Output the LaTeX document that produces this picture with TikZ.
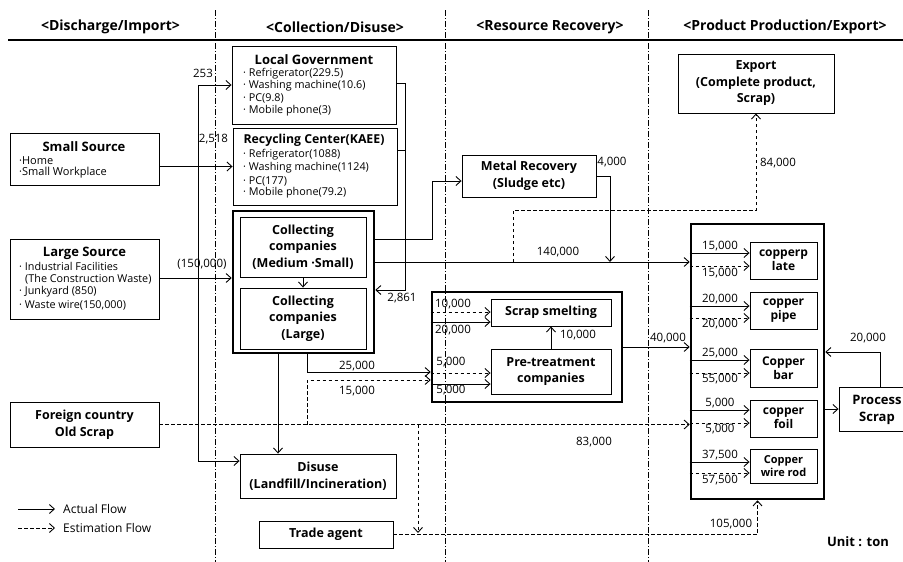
\documentclass[tikz,border=0pt]{standalone}
\usepackage{fontspec}
\setmainfont{Open Sans}
\usetikzlibrary{arrows.meta,calc}
\begin{document}
\begin{tikzpicture}[x=1pt,y=-1pt,
  box/.style={draw, line width=0.9pt, inner sep=0pt, align=center, font=\bfseries\fontsize{12.5}{16.5}\selectfont},
  thickbox/.style={draw, line width=2.6pt, inner sep=0pt},
  prod/.style={box, font=\bfseries\fontsize{12}{14}\selectfont},
  ttl/.style={inner sep=0pt, font=\bfseries\fontsize{13}{15}\selectfont},
  hdr/.style={inner sep=0pt, font=\bfseries\fontsize{14}{16}\selectfont},
  item/.style={inner sep=0pt, anchor=west, font=\fontsize{10.8}{13}\selectfont},
  num/.style={inner sep=0pt, font=\fontsize{11.5}{13}\selectfont},
  act/.style={line width=0.9pt, -{Straight Barb[length=5pt,width=9pt,line width=0.9pt]}},
  est/.style={act, dash pattern=on 3.5pt off 2.5pt},
  plain/.style={line width=0.9pt},
  sep/.style={line width=0.6pt, dash pattern=on 6pt off 2pt on 1pt off 2pt}]
\useasboundingbox (0,0) rectangle (903,562);

% column separators and header line
\draw[sep] (215,10) -- (215,562);
\draw[sep] (445,10) -- (445,562);
\draw[sep] (648,10) -- (648,562);
\draw[line width=2pt] (8,40) -- (903,40);

\node[hdr] (h1) at (110.5,27) {<Discharge/Import>};
\node[hdr] (h2) at (335,27) {<Collection/Disuse>};
\node[hdr] (h3) at (550,27) {<Resource Recovery>};
\node[hdr] (h4) at (785,27) {<Product Production/Export>};

% left column
\node[box, minimum width=149pt, minimum height=52pt] (SS) at (84.5,159) {};
\node[ttl] (SSt) at (84,147) {Small Source};
\node[item, font=\fontsize{11}{12}\selectfont] (SS1) at (19,161) {·Home};
\node[item, font=\fontsize{11}{12}\selectfont] (SS2) at (19,173) {·Small Workplace};

\node[box, minimum width=149pt, minimum height=80pt] (LS) at (84.5,279) {};
\node[ttl] (LSt) at (84.5,253) {Large Source};
\node[item] (LS1) at (19,266) {· Industrial Facilities};
\node[item] (LS2) at (25,279) {(The Construction Waste)};
\node[item] (LS3) at (19,292) {· Junkyard (850)};
\node[item] (LS4) at (19,305) {· Waste wire(150,000)};

\node[box, minimum width=149pt, minimum height=45pt] (FC) at (84.5,424.5) {Foreign country\\Old Scrap};

% collection column
\node[box, minimum width=164pt, minimum height=78pt] (LG) at (314,85) {};
\node[ttl] (LGt) at (314,60) {Local Government};
\node[item] (LG1) at (243,73.5) {· Refrigerator(229.5)};
\node[item] (LG2) at (243,86) {· Washing machine(10.6)};
\node[item] (LG3) at (243,98.5) {· PC(9.8)};
\node[item] (LG4) at (243,111) {· Mobile phone(3)};

\node[box, minimum width=164pt, minimum height=77pt] (RC) at (315,166.5) {};
\node[ttl, font=\bfseries\fontsize{12.3}{15}\selectfont] (RCt) at (314,140) {Recycling Center(KAEE)};
\node[item] (RC1) at (243,155) {· Refrigerator(1088)};
\node[item] (RC2) at (243,168) {· Washing machine(1124)};
\node[item] (RC3) at (243,181) {· PC(177)};
\node[item] (RC4) at (243,193) {· Mobile phone(79.2)};

\node[thickbox, minimum width=141pt, minimum height=142pt] (CC) at (303.5,282) {};
\node[box, minimum width=126pt, minimum height=60pt] (CM) at (303,247) {Collecting\\companies\\(Medium ·Small)};
\node[box, minimum width=126pt, minimum height=61pt] (CL) at (303,318.5) {Collecting\\companies\\(Large)};

\node[box, minimum width=156pt, minimum height=44pt] (DU) at (318,476) {Disuse\\(Landfill/Incineration)};
\node[box, minimum width=134pt, minimum height=27pt] (TA) at (326,534.5) {Trade agent};

% resource recovery column
\node[box, minimum width=134pt, minimum height=42pt] (MR) at (529,176) {Metal Recovery\\(Sludge etc)};
\node[thickbox, minimum width=190pt, minimum height=110pt] (PT) at (527,347) {};
\node[box, minimum width=120pt, minimum height=27pt] (SM) at (551,312.5) {Scrap smelting};
\node[box, minimum width=120pt, minimum height=45pt] (PC) at (551,371.5) {Pre-treatment\\companies};

% product column
\node[box, minimum width=156pt, minimum height=59pt] (EX) at (756,83.5) {Export\\(Complete product,\\Scrap)};
\node[thickbox, minimum width=133pt, minimum height=275pt] (CB) at (757.5,361.5) {};
\node[prod, minimum width=67pt, minimum height=37pt] (P1) at (783.5,260.5) {copperp\\late};
\node[prod, minimum width=67pt, minimum height=37pt] (P2) at (783.5,310.5) {copper\\pipe};
\node[prod, minimum width=67pt, minimum height=38pt] (P3) at (783.5,368) {Copper\\bar};
\node[prod, minimum width=67pt, minimum height=37pt] (P4) at (783.5,418.5) {copper\\foil};
\node[prod, minimum width=67pt, minimum height=34pt, font=\bfseries\fontsize{11}{12.5}\selectfont] (P5) at (783.5,466) {Copper\\wire rod};
\node[draw, line width=0.9pt, inner sep=0pt, minimum width=64pt, minimum height=44pt] (PS) at (871,409) {};
\node[ttl, align=center, font=\bfseries\fontsize{13}{17}\selectfont] (PSt) at (877,409.5) {Process\\Scrap};

% connectors: sources
\coordinate (j1) at (198,166.5);
\draw[act] (SS.east |- RC.west) -- (RC.west);
\draw[act] (j1) |- (LG.west);
\draw[act] (j1) |- (DU.west |- 0,461);
\node[num] (n253) at (203,73) {253};
\node[num] (n2518) at (213.5,139) {2,518};
\draw[act] (LS.east |- 0,278) -- (CC.west |- 0,278);
\node[num] (n150) at (202,264) {(150,000)};

% collection internals
\draw[act] (CM.south) -- (CL.north);
\coordinate (b1) at (405,290);
\draw[act] (LG.east |- 0,83) -| (b1) -- (b1 -| CC.east);
\draw[plain] (RC.east |- 0,150) -| (b1);
\node[num] (n2861) at (402,298) {2,861};
\draw[act] (CC.south -| 278,0) -- (DU.north -| 278,0);

% to metal recovery and product
\draw[act] (CC.east |- 0,239) -| (432,181) -- (MR.west |- 0,181);
\draw[act] (CC.east |- 0,262) -- (CB.west |- 0,262);
\node[num] (n140) at (558,252) {140,000};
\draw[act] (MR.east) -| (610,262);
\node[num] (n4000) at (612,162) {4,000};
\draw[est] (513,262) |- (EX.south |- 0,210) -- (EX.south);
\node[num] (n84) at (778,163) {84,000};

% to pre-treatment
\draw[act] (CC.south -| 307,0) |- (PT.west |- 0,372);
\node[num] (n25) at (357,366) {25,000};
\draw[est] (FC.east -| 307,0) |- (PT.west |- 0,380);
\node[num] (n15) at (357,391) {15,000};

% pre-treatment internals
\draw[est] (PT.west |- 0,312) -- (SM.west |- 0,312);
\draw[act] (PT.west |- 0,322) -- (SM.west |- 0,322);
\node[num] (nA) at (453,304) {10,000};
\node[num] (nB) at (453,330) {20,000};
\draw[est] (PT.west |- 0,373) -- (PC.west |- 0,373);
\draw[act] (PT.west |- 0,384) -- (PC.west |- 0,384);
\node[num] (nC) at (451,362) {5,000};
\node[num] (nD) at (451,390) {5,000};
\draw[act] (PC.north) -- (SM.south);
\node[num] (nE) at (578,335) {10,000};
\draw[act] (PT.east) -- (PT.east -| CB.west);
\node[num] (n40) at (668,338) {40,000};

% foreign scrap and trade agent
\draw[est] (FC.east) -- (FC.east -| CB.west);
\node[num] (n83) at (594,442) {83,000};
\draw[est] (FC.east -| 418,0) -- (418,533);
\draw[est] (TA.east) -| (CB.south);
\node[num] (n105) at (731,524) {105,000};

% product internals
\draw[act] (CB.west |- 0,253) -- (P1.west |- 0,253);
\draw[est] (CB.west |- 0,266) -- (P1.west |- 0,266);
\node[num] (q1a) at (720,246) {15,000};
\node[num] (q1b) at (720,273) {15,000};
\draw[act] (CB.west |- 0,306) -- (P2.west |- 0,306);
\draw[est] (CB.west |- 0,318) -- (P2.west |- 0,318);
\node[num] (q2a) at (720,299) {20,000};
\node[num] (q2b) at (720,324.5) {20,000};
\draw[act] (CB.west |- 0,360) -- (P3.west |- 0,360);
\draw[est] (CB.west |- 0,373) -- (P3.west |- 0,373);
\node[num] (q3a) at (720,353) {25,000};
\node[num] (q3b) at (720,379) {55,000};
\draw[act] (CB.west |- 0,410) -- (P4.west |- 0,410);
\draw[est] (CB.west |- 0,423) -- (P4.west |- 0,423);
\node[num] (q4a) at (720,403) {5,000};
\node[num] (q4b) at (720,429) {5,000};
\draw[act] (CB.west |- 0,462) -- (P5.west |- 0,462);
\draw[est] (CB.west |- 0,473) -- (P5.west |- 0,473);
\node[num] (q5a) at (720,455) {37,500};
\node[num] (q5b) at (720,480) {57,500};

% process scrap
\draw[act] (PS.west -| CB.east) -- (PS.west);
\draw[act] (PS.north -| 880,0) |- (CB.east |- 0,352);
\node[num] (n20) at (868,338) {20,000};

% legend and unit
\coordinate (la1) at (18,509); \coordinate (la2) at (55,509);
\coordinate (lb1) at (18,528); \coordinate (lb2) at (55,528);
\draw[act] (la1) -- (la2);
\draw[est] (lb1) -- (lb2);
\node[item, font=\fontsize{12}{13}\selectfont] (lt1) at (63,509) {Actual Flow};
\node[item, font=\fontsize{12}{13}\selectfont] (lt2) at (63,528) {Estimation Flow};
\node[ttl] (unit) at (858,542) {Unit : ton};
\end{tikzpicture}
\end{document}
